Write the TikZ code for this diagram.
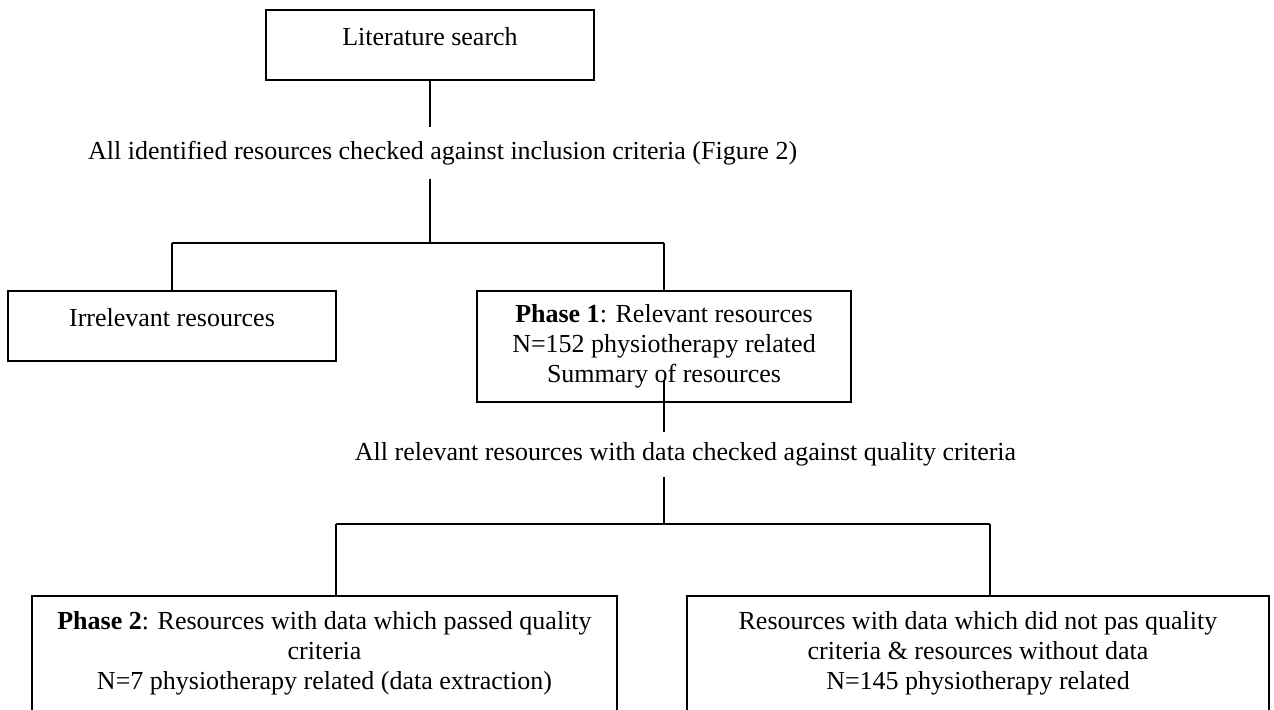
\documentclass[tikz,border=0pt]{standalone}
\usepackage{fontspec}
\setmainfont{Liberation Serif}
\begin{document}
\begin{tikzpicture}[x=0.5pt,y=-0.5pt,
  txt/.style={font=\fontsize{13pt}{15pt}\selectfont},
  box/.style={txt, draw, line width=0.9pt, inner sep=0pt, align=center},
  lbl/.style={txt, inner sep=0pt, align=center},
  conn/.style={line width=0.75pt},
  hconn/.style={line width=1.4pt}]
\useasboundingbox (0,0) rectangle (1274,709);
\clip (0,0) rectangle (1274,709);
\node[box, minimum width=164pt, minimum height=35pt, text height=9pt, text depth=8.4pt] (lit) at (430,45) {Literature search};
\node[lbl, minimum height=26pt] (t1) at (442.6,153) {All identified resources checked against inclusion criteria (Figure 2)};
\node[box, minimum width=164pt, minimum height=35pt, text height=9pt, text depth=8.4pt] (irr) at (172,326) {Irrelevant resources};
\node[box, minimum width=187pt, minimum height=55.5pt] (ph1) at (664,346.5) {\textbf{Phase 1}: Relevant resources\\N=152 physiotherapy related\\Summary of resources};
\node[lbl, minimum height=22.5pt] (t2) at (685.5,454.5) {All relevant resources with data checked against quality criteria};
\node[box, anchor=north, minimum width=292.5pt, inner ysep=8pt] (ph2) at (324.5,595) {\textbf{Phase 2}: Resources with data which passed quality\\criteria\\N=7 physiotherapy related (data extraction)\\\strut};
\node[box, anchor=north, minimum width=291pt, inner ysep=8pt] (rest) at (978,595) {Resources with data which did not pas quality\\criteria \& resources without data\\N=145 physiotherapy related\\\strut};
\coordinate (b1) at (430,243);
\coordinate (p1c) at (664,380);
\coordinate (b2) at (664,524);
\coordinate (ph2c) at (336,595);
\coordinate (restc) at (990,595);
\draw[conn] (lit.south) -- (lit.south |- t1.north);
\draw[conn] (lit.south |- t1.south) -- (b1);
\draw[hconn] (b1 -| irr.north) -- (b1 -| ph1.north);
\draw[conn] (b1 -| irr.north) -- (irr.north);
\draw[conn] (b1 -| ph1.north) -- (ph1.north);
\draw[conn] (p1c) -- (p1c |- t2.north);
\draw[conn] (p1c |- t2.south) -- (b2);
\draw[hconn] (b2 -| ph2c) -- (b2 -| restc);
\draw[conn] (b2 -| ph2c) -- (ph2c);
\draw[conn] (b2 -| restc) -- (restc);
\end{tikzpicture}
\end{document}
